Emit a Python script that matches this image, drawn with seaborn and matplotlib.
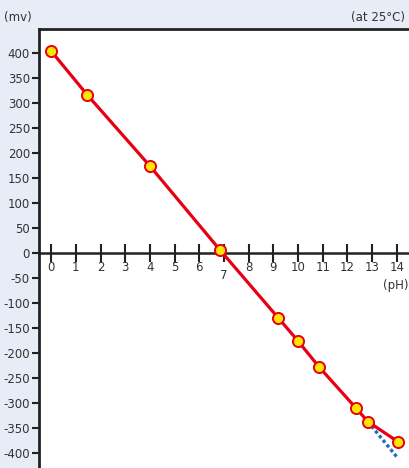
import matplotlib
matplotlib.use("Agg")
import matplotlib.pyplot as plt
import seaborn as sns
import pandas as pd

ph_values = [0.0, 1.45, 4.0, 6.82, 9.2, 9.98, 10.85, 12.34, 12.82, 14.03]
mv_values = [404, 317, 174, 7, -130, -175, -228, -310, -337, -377]
theory_ph = [12.82, 14.0]
theory_mv = [-337, -408]
x_ticks = list(range(0, 15))
y_ticks = list(range(-400, 401, 50))

sns.set_style("white")
plt.rcParams['font.family'] = ['DejaVu Sans']

bg = "#e8ecf6"
txt = "#333333"
fig = plt.figure(figsize=(4.09, 4.68), dpi=100, facecolor=bg)
ax = fig.add_axes([39/409, 0, 1 - 39/409, (468 - 29)/468])
ax.set_facecolor("white")

df = pd.DataFrame({"pH": ph_values, "mV": mv_values})
dt = pd.DataFrame({"pH": theory_ph, "mV": theory_mv})

sns.lineplot(data=dt, x="pH", y="mV", ax=ax, color="#1f6fc4", lw=2.4,
             linestyle=(0, (1, 0.8)), zorder=2)
sns.lineplot(data=df, x="pH", y="mV", ax=ax, color="#e60012", lw=2.3,
             marker="o", markersize=8, markerfacecolor="#ffe600",
             markeredgecolor="#e60012", markeredgewidth=1.4, zorder=3)

ax.set_xlim(-0.49, 14.49)
ax.set_ylim(-430, 448)
ax.set_xlabel("")
ax.set_ylabel("")

ax.spines["right"].set_visible(False)
ax.spines["left"].set_linewidth(2)
ax.spines["left"].set_color("#222222")
ax.spines["top"].set_linewidth(2)
ax.spines["top"].set_color("#222222")
ax.spines["bottom"].set_position(("data", 0))
ax.spines["bottom"].set_linewidth(1.8)
ax.spines["bottom"].set_color("#222222")
ax.spines["bottom"].set_zorder(1)

ax.set_yticks(y_ticks)
ax.set_yticklabels([str(v) for v in y_ticks])
ax.tick_params(axis="y", direction="out", length=5, width=1.5, color="#222222",
               labelsize=8.5, labelcolor=txt, pad=1.5, left=True)
ax.set_xticks(x_ticks)
ax.set_xticklabels(["" if v == 7 else str(v) for v in x_ticks])
ax.tick_params(axis="x", direction="inout", length=13, width=1.5, color="#222222",
               labelsize=8.5, labelcolor=txt, pad=-1, bottom=True)
ax.text(7, -45, "7", ha="center", va="center", fontsize=8.5, color=txt)
ax.text(14.45, -64, "(pH)", ha="right", va="center", fontsize=8.5, color=txt)

fig.text(18/409, 1 - 17/468, "(mv)", ha="center", va="center", fontsize=8.5, color=txt)
fig.text(405/409, 1 - 17/468, "(at 25\u00b0C)", ha="right", va="center", fontsize=8.5, color=txt)

fig.savefig("out.png", dpi=100, facecolor=bg)
